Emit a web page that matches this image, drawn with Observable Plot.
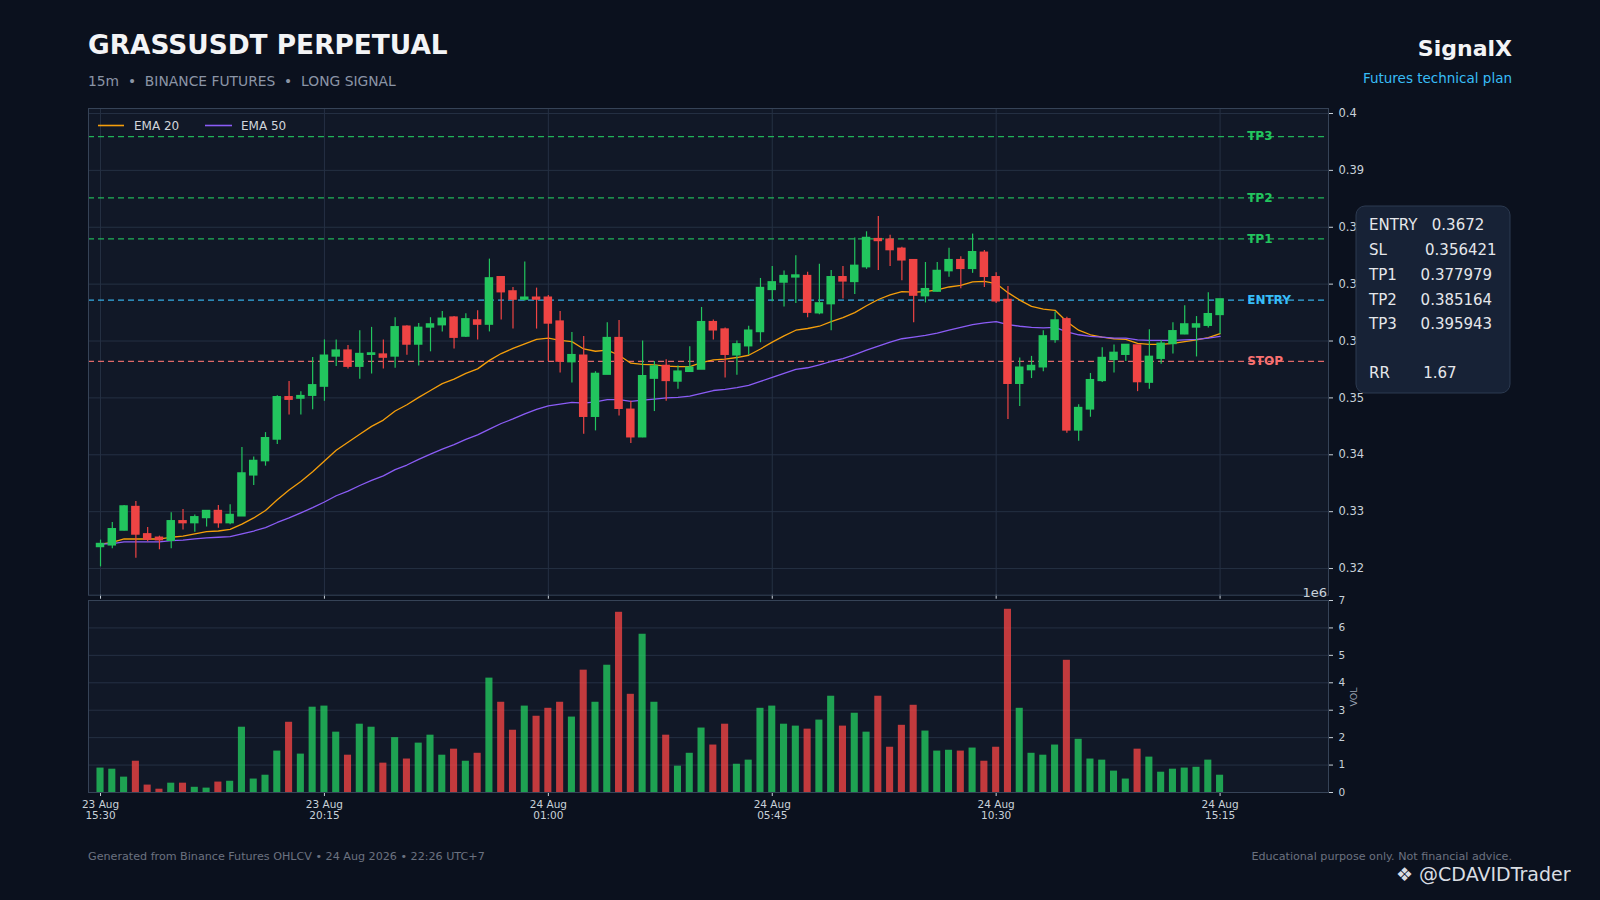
<!DOCTYPE html>
<html>
<head>
<meta charset="utf-8">
<script src="https://cdn.jsdelivr.net/npm/d3@7"></script>
<script src="https://cdn.jsdelivr.net/npm/@observablehq/plot@0.6"></script>
<style>
html, body { margin: 0; padding: 0; background: #0b111e; }
#page { position: relative; width: 1600px; height: 900px; overflow: hidden; background: #0b111e; font-family: "DejaVu Sans", sans-serif; }
#page svg.plotsvg { position: absolute; background: transparent; overflow: visible; max-width: none; }
#overlay { position: absolute; left: 0; top: 0; }
#overlay text { white-space: pre; }
</style>
</head>
<body>
<div id="page"></div>
<script>
// ---------- DATA (15m candles, 23 Aug 15:30 -> 24 Aug 15:15) ----------
const open  = [0.3238,0.3241,0.3267,0.3308,0.3260,0.3254,0.3249,0.3283,0.3280,0.3289,
               0.3301,0.3280,0.3292,0.3364,0.3389,0.3427,0.3501,0.3499,0.3504,0.3520,
               0.3573,0.3583,0.3555,0.3576,0.3576,0.3573,0.3625,0.3594,0.3624,0.3628,
               0.3641,0.3608,0.3636,0.3629,0.3712,0.3687,0.3673,0.3676,0.3676,0.3634,
               0.3563,0.3574,0.3467,0.3541,0.3605,0.3479,0.3431,0.3534,0.3556,0.3529,
               0.3546,0.3550,0.3633,0.3620,0.3575,0.3591,0.3616,0.3690,0.3703,0.3712,
               0.3714,0.3649,0.3665,0.3712,0.3704,0.3730,0.3779,0.3778,0.3762,0.3742,
               0.3679,0.3687,0.3723,0.3742,0.3727,0.3755,0.3712,0.3672,0.3525,0.3549,
               0.3554,0.3602,0.3638,0.3443,0.3480,0.3530,0.3567,0.3576,0.3592,0.3527,
               0.3569,0.3595,0.3612,0.3624,0.3627,0.3646];
const high  = [0.3250,0.3281,0.3311,0.3318,0.3272,0.3257,0.3298,0.3304,0.3294,0.3301,
               0.3311,0.3312,0.3413,0.3396,0.3439,0.3504,0.3529,0.3511,0.3571,0.3602,
               0.3602,0.3592,0.3618,0.3624,0.3602,0.3641,0.3627,0.3631,0.3641,0.3652,
               0.3643,0.3648,0.3653,0.3744,0.3713,0.3694,0.3739,0.3693,0.3680,0.3652,
               0.3615,0.3608,0.3546,0.3632,0.3636,0.3494,0.3600,0.3564,0.3567,0.3556,
               0.3590,0.3659,0.3637,0.3623,0.3600,0.3626,0.3710,0.3731,0.3723,0.3750,
               0.3721,0.3735,0.3724,0.3731,0.3781,0.3792,0.3819,0.3786,0.3765,0.3743,
               0.3738,0.3738,0.3763,0.3748,0.3788,0.3759,0.3720,0.3696,0.3570,0.3573,
               0.3618,0.3651,0.3642,0.3488,0.3543,0.3588,0.3593,0.3593,0.3592,0.3620,
               0.3601,0.3632,0.3662,0.3643,0.3685,0.3673];
const low   = [0.3203,0.3235,0.3266,0.3218,0.3247,0.3233,0.3235,0.3268,0.3264,0.3273,
               0.3271,0.3277,0.3292,0.3346,0.3380,0.3418,0.3470,0.3470,0.3479,0.3494,
               0.3555,0.3551,0.3533,0.3542,0.3551,0.3552,0.3575,0.3556,0.3581,0.3616,
               0.3586,0.3606,0.3602,0.3616,0.3637,0.3621,0.3670,0.3621,0.3564,0.3544,
               0.3526,0.3436,0.3442,0.3541,0.3468,0.3420,0.3430,0.3476,0.3494,0.3515,
               0.3546,0.3550,0.3602,0.3535,0.3540,0.3575,0.3597,0.3669,0.3660,0.3666,
               0.3641,0.3646,0.3618,0.3674,0.3682,0.3726,0.3724,0.3731,0.3706,0.3632,
               0.3667,0.3686,0.3712,0.3692,0.3719,0.3694,0.3666,0.3462,0.3485,0.3534,
               0.3546,0.3596,0.3438,0.3424,0.3466,0.3527,0.3544,0.3564,0.3511,0.3515,
               0.3559,0.3577,0.3611,0.3572,0.3623,0.3612];
const close = [0.3243,0.3269,0.3309,0.3260,0.3251,0.3250,0.3283,0.3280,0.3290,0.3301,
               0.3280,0.3294,0.3367,0.3389,0.3429,0.3501,0.3497,0.3503,0.3522,0.3574,
               0.3583,0.3555,0.3577,0.3578,0.3571,0.3624,0.3594,0.3623,0.3629,0.3639,
               0.3606,0.3638,0.3629,0.3710,0.3686,0.3673,0.3676,0.3673,0.3631,0.3564,
               0.3575,0.3467,0.3542,0.3605,0.3481,0.3431,0.3538,0.3555,0.3530,0.3546,
               0.3553,0.3633,0.3619,0.3576,0.3594,0.3618,0.3693,0.3703,0.3714,0.3715,
               0.3650,0.3666,0.3712,0.3705,0.3732,0.3781,0.3776,0.3760,0.3742,0.3680,
               0.3691,0.3723,0.3742,0.3727,0.3756,0.3713,0.3670,0.3525,0.3553,0.3556,
               0.3608,0.3636,0.3443,0.3482,0.3531,0.3570,0.3579,0.3593,0.3528,0.3572,
               0.3595,0.3617,0.3629,0.3629,0.3647,0.3673];
// volume, millions
const volume = [0.89,0.85,0.56,1.14,0.27,0.12,0.34,0.34,0.19,0.16,
                0.38,0.41,2.38,0.49,0.63,1.51,2.56,1.40,3.11,3.15,
                2.20,1.36,2.49,2.38,1.07,2.00,1.22,1.80,2.09,1.36,
                1.58,1.14,1.43,4.17,3.29,2.27,3.15,2.78,3.07,3.29,
                2.75,4.46,3.29,4.64,6.57,3.58,5.77,3.29,2.09,0.96,
                1.43,2.35,1.73,2.49,1.03,1.18,3.07,3.15,2.49,2.42,
                2.31,2.64,3.51,2.42,2.89,2.20,3.51,1.65,2.45,3.18,
                2.24,1.51,1.54,1.51,1.62,1.14,1.65,6.68,3.07,1.43,
                1.36,1.73,4.82,1.94,1.22,1.18,0.78,0.49,1.58,1.29,
                0.74,0.85,0.89,0.92,1.18,0.63];
const ema20 = [0.3243,0.3246,0.3252,0.3252,0.3252,0.3252,0.3255,0.3257,0.3261,0.3265,
               0.3266,0.3269,0.3278,0.3289,0.3302,0.3321,0.3338,0.3353,0.3370,0.3389,
               0.3408,0.3422,0.3436,0.3450,0.3461,0.3477,0.3488,0.3501,0.3513,0.3525,
               0.3533,0.3543,0.3551,0.3566,0.3578,0.3587,0.3595,0.3603,0.3605,0.3601,
               0.3599,0.3586,0.3582,0.3584,0.3575,0.3561,0.3559,0.3558,0.3556,0.3555,
               0.3555,0.3562,0.3567,0.3568,0.3571,0.3575,0.3586,0.3598,0.3609,0.3619,
               0.3622,0.3626,0.3634,0.3641,0.3650,0.3662,0.3673,0.3681,0.3687,0.3686,
               0.3687,0.3690,0.3695,0.3698,0.3704,0.3705,0.3701,0.3685,0.3672,0.3661,
               0.3656,0.3654,0.3634,0.3619,0.3611,0.3607,0.3604,0.3603,0.3596,0.3594,
               0.3594,0.3596,0.3599,0.3602,0.3606,0.3613];
const ema50 = [0.3243,0.3244,0.3247,0.3247,0.3247,0.3247,0.3249,0.3250,0.3252,0.3254,
               0.3255,0.3256,0.3261,0.3266,0.3272,0.3281,0.3289,0.3298,0.3307,0.3317,
               0.3328,0.3336,0.3346,0.3355,0.3363,0.3374,0.3382,0.3392,0.3401,0.3410,
               0.3418,0.3427,0.3435,0.3445,0.3455,0.3463,0.3472,0.3480,0.3486,0.3489,
               0.3492,0.3491,0.3493,0.3497,0.3497,0.3494,0.3496,0.3498,0.3500,0.3501,
               0.3503,0.3508,0.3513,0.3515,0.3518,0.3522,0.3529,0.3536,0.3543,0.3550,
               0.3553,0.3558,0.3564,0.3569,0.3576,0.3584,0.3591,0.3598,0.3604,0.3607,
               0.3610,0.3614,0.3619,0.3624,0.3629,0.3632,0.3634,0.3629,0.3626,0.3624,
               0.3623,0.3624,0.3616,0.3611,0.3608,0.3607,0.3605,0.3605,0.3602,0.3601,
               0.3601,0.3601,0.3602,0.3603,0.3605,0.3608];
const tickIndex  = [0, 19, 38, 57, 76, 95];
const tickLabels = ["23 Aug\n15:30","23 Aug\n20:15","24 Aug\n01:00","24 Aug\n05:45","24 Aug\n10:30","24 Aug\n15:15"];
const priceTicks = [0.32,0.33,0.34,0.35,0.36,0.37,0.38,0.39,0.40];
const volTicks   = [0,1,2,3,4,5,6,7];
const levelNames  = ["TP3","TP2","TP1","ENTRY","STOP"];
const levelValues = [0.395943, 0.385164, 0.377979, 0.3672, 0.356421];
const infoLines = ["ENTRY   0.3672","SL        0.356421","TP1     0.377979","TP2     0.385164","TP3     0.395943","","RR       1.67"];

// ---------- STYLE ----------
const GREEN = "#22c55e", RED = "#ef4444";
const AXBG = "#111827", GRID = "#253043", FRAME = "#364357";
const levelColor = {TP3: "#22c55e", TP2: "#22c55e", TP1: "#22c55e", ENTRY: "#38bdf8", STOP: "#f87171"};
const xDomain = [-1.02, 104.2];

const candles = close.map((c, i) => ({i, o: open[i], h: high[i], l: low[i], c, v: volume[i], e20: ema20[i], e50: ema50[i]}));
const col = d => d.c >= d.o ? GREEN : RED;
const levels = levelNames.map((name, k) => ({name, value: levelValues[k]}));

const page = document.getElementById("page");

const price = Plot.plot({
  width: 1301, height: 498,
  marginLeft: 1, marginTop: 1, marginRight: 60, marginBottom: 10.3,
  style: {fontFamily: "DejaVu Sans", color: "#c9d1d9", background: "transparent"},
  x: {type: "linear", domain: xDomain},
  y: {domain: [0.315316, 0.400877]},
  color: {type: "identity"},
  marks: [
    Plot.frame({fill: AXBG}),
    Plot.gridY(priceTicks, {stroke: GRID, strokeOpacity: 1}),
    Plot.gridX(tickIndex, {stroke: GRID, strokeOpacity: 1}),
    Plot.ruleY(levels, {y: "value", stroke: d => levelColor[d.name], strokeDasharray: "6,4", strokeWidth: 1.25, strokeOpacity: 0.9}),
    Plot.line(candles, {x: "i", y: "e20", stroke: "#f59e0b", strokeWidth: 1.3}),
    Plot.line(candles, {x: "i", y: "e50", stroke: "#8b5cf6", strokeWidth: 1.3}),
    Plot.ruleX(candles, {x: "i", y1: "l", y2: "h", stroke: col, strokeWidth: 1.2}),
    Plot.rect(candles, {x1: d => d.i - 0.36, x2: d => d.i + 0.36, y1: "o", y2: "c", fill: col, insetTop: -0.8, insetBottom: -0.8}),
    Plot.text(levels, {x: 97.3, y: "value", text: "name", fill: d => levelColor[d.name], fontWeight: "bold", fontSize: 12, textAnchor: "start"}),
    Plot.axisY(priceTicks, {anchor: "right", tickSize: 4, tickPadding: 6, fontSize: 11.5, tickFormat: d => String(+d.toFixed(2)), label: null}),
    Plot.axisX(tickIndex, {tickSize: 4, tickFormat: () => "", label: null}),
    Plot.frame({stroke: FRAME})
  ]
});
price.classList.add("plotsvg");
price.style.left = "87.3px"; price.style.top = "107.3px";
page.appendChild(price);

const vol = Plot.plot({
  width: 1301, height: 233,
  marginLeft: 1, marginTop: 1, marginRight: 60, marginBottom: 40,
  style: {fontFamily: "DejaVu Sans", color: "#c9d1d9", background: "transparent"},
  x: {type: "linear", domain: xDomain},
  y: {domain: [0, 7]},
  color: {type: "identity"},
  marks: [
    Plot.frame({fill: AXBG}),
    Plot.gridY(volTicks, {stroke: GRID, strokeOpacity: 1}),
    Plot.rect(candles, {x1: d => d.i - 0.3, x2: d => d.i + 0.3, y1: 0, y2: "v", fill: col, fillOpacity: 0.8}),
    Plot.axisY(volTicks, {anchor: "right", tickSize: 4, tickPadding: 6, fontSize: 10.5, label: null}),
    Plot.axisX(tickIndex, {tickSize: 4, tickPadding: 3, fontSize: 10.5, lineHeight: 1.1, tickFormat: d => tickLabels[tickIndex.indexOf(d)], label: null}),
    Plot.frame({stroke: FRAME})
  ]
});
vol.classList.add("plotsvg");
vol.style.left = "87.3px"; vol.style.top = "599.3px";
page.appendChild(vol);

// ---------- OVERLAY TEXT ----------
const ns = "http://www.w3.org/2000/svg";
const ov = document.createElementNS(ns, "svg");
ov.setAttribute("id", "overlay");
ov.setAttribute("width", 1600); ov.setAttribute("height", 900);
ov.setAttribute("font-family", "DejaVu Sans");
page.appendChild(ov);
function el(tag, attrs, txt) {
  const e = document.createElementNS(ns, tag);
  for (const k in attrs) e.setAttribute(k, attrs[k]);
  if (txt !== undefined) e.textContent = txt;
  ov.appendChild(e);
  return e;
}
el("text", {x: 88, y: 54, "font-size": 26.4, "font-weight": "bold", fill: "#f3f4f6"}, "GRASSUSDT PERPETUAL");
el("text", {x: 88, y: 86, "font-size": 13.85, fill: "#8b95a6"}, "15m  •  BINANCE FUTURES  •  LONG SIGNAL");
el("text", {x: 1512, y: 56, "font-size": 22, "font-weight": "bold", fill: "#f3f4f6", "text-anchor": "end"}, "SignalX");
el("text", {x: 1512, y: 83, "font-size": 13.5, fill: "#38bdf8", "text-anchor": "end"}, "Futures technical plan");
// legend
el("line", {x1: 98, x2: 124, y1: 125.5, y2: 125.5, stroke: "#f59e0b", "stroke-width": 1.6});
el("text", {x: 134, y: 129.5, "font-size": 12, fill: "#d1d5db"}, "EMA 20");
el("line", {x1: 205, x2: 232, y1: 125.5, y2: 125.5, stroke: "#8b5cf6", "stroke-width": 1.6});
el("text", {x: 241, y: 129.5, "font-size": 12, fill: "#d1d5db"}, "EMA 50");
// offset text & vol label
el("text", {x: 1327, y: 597, "font-size": 13, fill: "#c9d1d9", "text-anchor": "end"}, "1e6");
el("text", {x: 0, y: 0, "font-size": 9.5, fill: "#9aa3b2", "text-anchor": "middle", transform: "translate(1357,697) rotate(-90)"}, "VOL");
// info box
el("rect", {x: 1356, y: 206, width: 154, height: 187, rx: 9, ry: 9, fill: "#172236", stroke: "#2c3a50", "stroke-width": 1});
infoLines.forEach((t, k) => {
  const ys = [230, 255, 280, 305, 329, 354, 378];
  if (t) el("text", {x: 1369, y: ys[k], "font-size": 15, fill: "#e5e7eb"}, t);
});
// footer
el("text", {x: 88, y: 860, "font-size": 11.15, fill: "#6b7280"}, "Generated from Binance Futures OHLCV • 24 Aug 2026 • 22:26 UTC+7");
el("text", {x: 1512, y: 860, "font-size": 11.15, fill: "#6b7280", "text-anchor": "end"}, "Educational purpose only. Not financial advice.");
el("text", {x: 1396, y: 881, "font-size": 19, fill: "#d9dde3"}, "❖ @CDAVIDTrader");
</script>
</body>
</html>
